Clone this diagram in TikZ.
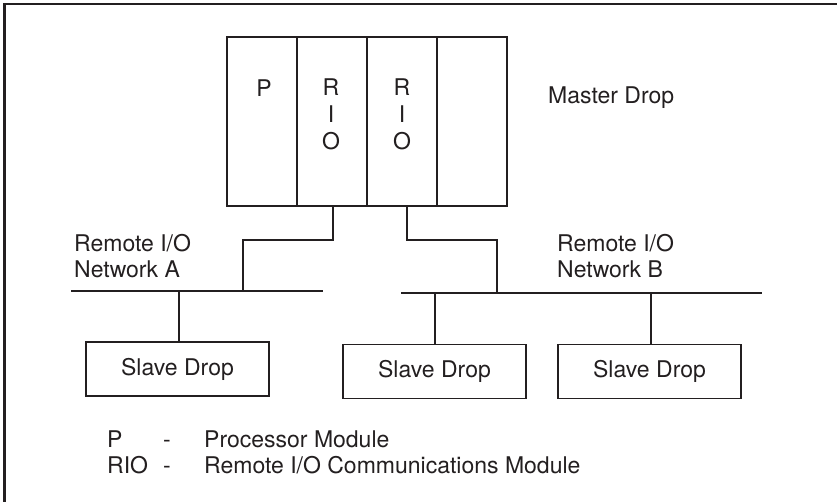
\documentclass[tikz,border=0pt]{standalone}
\usepackage{fontspec}
\setmainfont{TeX Gyre Heros}
\definecolor{ink}{HTML}{231F20}
\tikzset{
  module/.style={draw=ink, line width=1.8pt, minimum width=70pt, minimum height=169pt, inner sep=0},
  slavebox/.style={draw=ink, line width=1.8pt, minimum width=183pt, minimum height=54pt, inner sep=0},
  wire/.style={draw=ink, line width=1.8pt},
}
\begin{document}
\begin{tikzpicture}[x=1pt,y=-1pt,
    every node/.append style={text=ink, font=\fontsize{23}{26}\selectfont}]
      \useasboundingbox (0,0) rectangle (837,502);
      % frame (top and left only)
      \draw[ink, line width=2.4pt] (4.5,502) -- (4.5,4) -- (837,4);
      % master drop modules
      \node[module] (p)    at (262,121.5) {};
      \node[module] (rio1) at (332,121.5) {};
      \node[module] (rio2) at (402,121.5) {};
      \node[module] (spare) at (472,121.5) {};
      \node[anchor=base, inner sep=0] (ptxt) at (264,96.5) {P};
      \node[anchor=base, inner sep=0, align=center, font=\fontsize{23}{27}\selectfont] (riotxt1) at (331,150) {R\\I\\O};
      \node[anchor=base, inner sep=0, align=center, font=\fontsize{23}{27}\selectfont] (riotxt2) at (402,150) {R\\I\\O};
      \node[anchor=base west, inner sep=0] (master) at (548,104) {Master Drop};
      % network buses
      \coordinate (busAl) at (71,291);
      \coordinate (busAr) at (323,291);
      \coordinate (busBl) at (401,293);
      \coordinate (busBr) at (762,293);
      \draw[wire] (busAl) -- (busAr);
      \draw[wire] (busBl) -- (busBr);
      \node[anchor=base west, inner sep=0, align=left] (netA) at (74,277.5) {Remote I/O\\Network A};
      \node[anchor=base west, inner sep=0, align=left] (netB) at (557,277.5) {Remote I/O\\Network B};
      % links from the RIO modules
      \coordinate (ja) at (243,291);
      \coordinate (jb) at (497,293);
      \draw[wire] ([xshift=1pt]rio1.south) -- ++(0,33) -| (ja);
      \draw[wire] ([xshift=5pt]rio2.south) -- ++(0,33) -| (jb);
      % slave drops
      \node[slavebox] (slaveA)  at (177.5,369)   {Slave Drop};
      \node[slavebox] (slaveB1) at (434.5,371.5) {Slave Drop};
      \node[slavebox] (slaveB2) at (649.5,371.5) {Slave Drop};
      \draw[wire] ([xshift=1.5pt]slaveA.north) -- ([xshift=1.5pt]slaveA.north |- busAl);
      \draw[wire] ([xshift=0.5pt]slaveB1.north) -- ([xshift=0.5pt]slaveB1.north |- busBl);
      \draw[wire] ([xshift=1.5pt]slaveB2.north) -- ([xshift=1.5pt]slaveB2.north |- busBl);
      % legend
      \node[anchor=base west, inner sep=0, align=left, font=\fontsize{23}{25.5}\selectfont] (keys) at (107,473) {P\\RIO};
      \node[anchor=base west, inner sep=0, align=left, font=\fontsize{23}{25.5}\selectfont] (dashes) at (163,473) {-\\-};
      \node[anchor=base west, inner sep=0, align=left, font=\fontsize{23}{25.5}\selectfont] (meaning) at (204,473) {Processor Module\\Remote I/O Communications Module};
\end{tikzpicture}
\end{document}
